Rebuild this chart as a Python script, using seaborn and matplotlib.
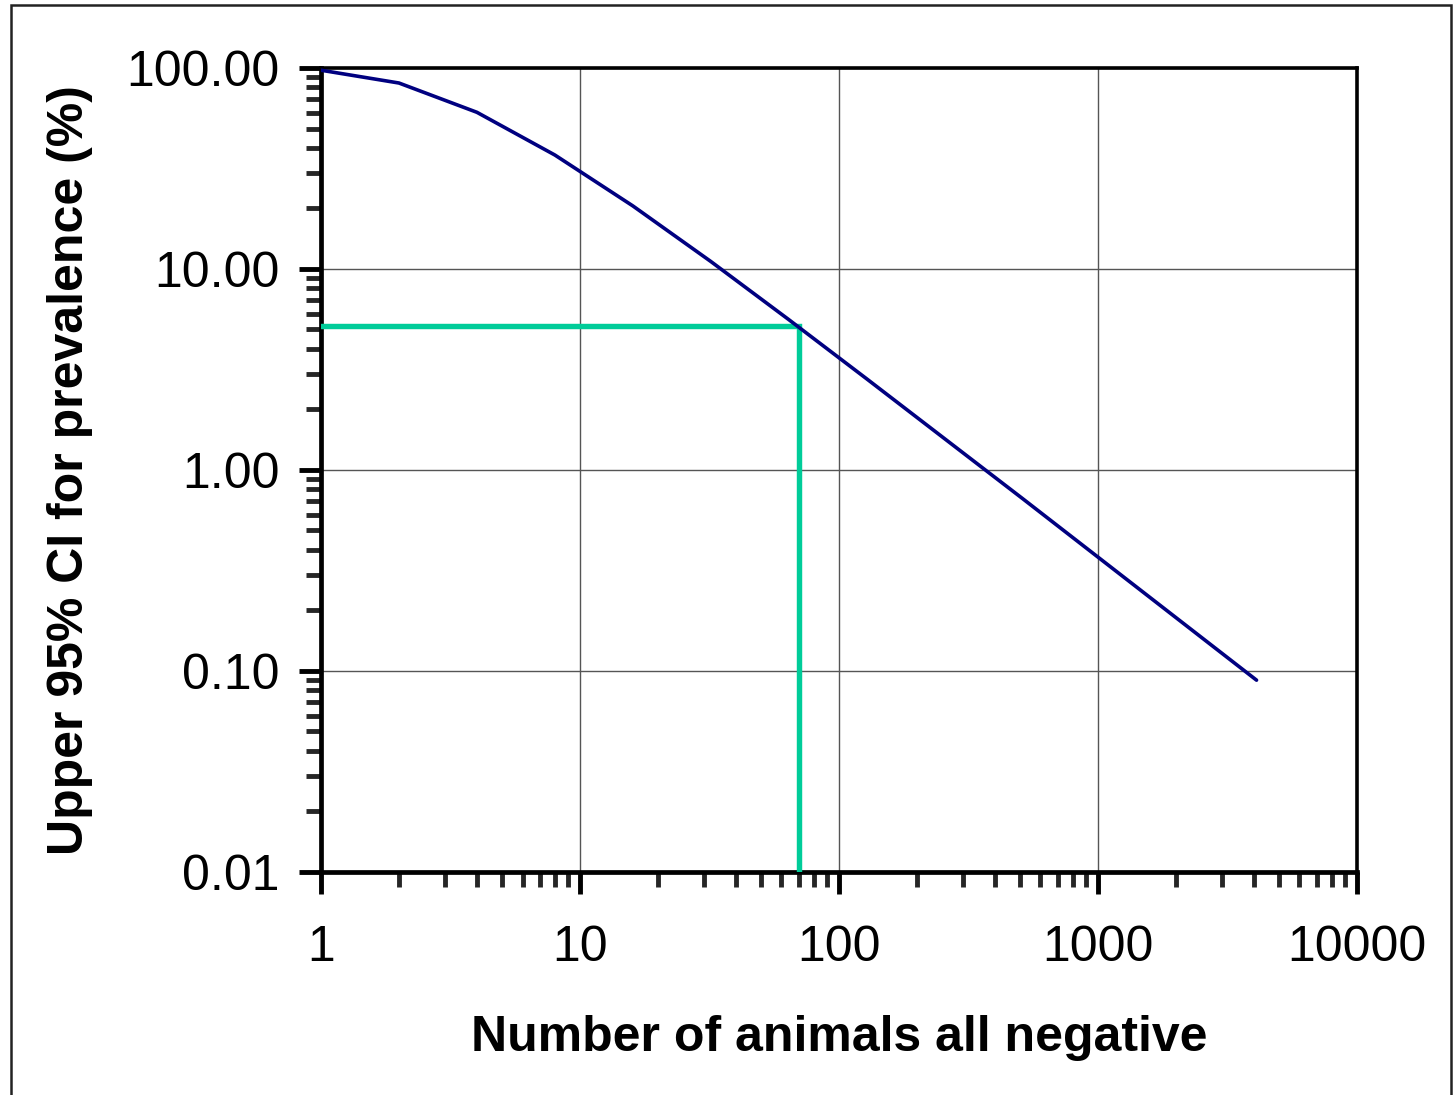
import matplotlib
matplotlib.use("Agg")
import matplotlib.pyplot as plt
import matplotlib.ticker as mticker
from matplotlib.patches import Rectangle
import seaborn as sns

# ----------------------------------------------------------
# Data
# ----------------------------------------------------------
n_animals = [1, 2, 4, 8, 16, 32, 64, 128, 256, 512, 1024, 2048, 4096]
upper_ci = [97.5, 84.2, 60.2, 36.9, 20.6, 10.9, 5.6, 2.84, 1.43, 0.72, 0.36, 0.18, 0.09]

# reference lines marking ~70 animals -> ~5% prevalence
guide_x = [1, 70, 70]
guide_y = [5.2, 5.2, 0.01]

x_ticks = [1, 10, 100, 1000, 10000]
x_labels = ["1", "10", "100", "1000", "10000"]
y_ticks = [0.01, 0.1, 1, 10, 100]
y_labels = ["0.01", "0.10", "1.00", "10.00", "100.00"]

# ----------------------------------------------------------
# Figure
# ----------------------------------------------------------
sns.set_style("white")
plt.rcParams["font.family"] = ["Liberation Sans", "DejaVu Sans"]
plt.rcParams["text.color"] = "black"
plt.rcParams["axes.labelcolor"] = "black"

fig = plt.figure(figsize=(14.55, 10.95), dpi=100)
ax = fig.add_axes([0.2206, 0.2037, 0.712, 0.7342])

sns.lineplot(x=n_animals, y=upper_ci, ax=ax, color="#000080", linewidth=2.6,
             estimator=None, sort=False, zorder=4)
ax.plot(guide_x, guide_y, color="#00CC99", linewidth=3.9, zorder=3,
        solid_joinstyle="miter")

ax.set_xscale("log")
ax.set_yscale("log")
ax.set_xlim(1, 10000)
ax.set_ylim(0.01, 100)

ax.set_xticks(x_ticks)
ax.set_xticklabels(x_labels)
ax.set_yticks(y_ticks)
ax.set_yticklabels(y_labels)
ax.xaxis.set_minor_locator(mticker.LogLocator(base=10, subs=range(2, 10)))
ax.yaxis.set_minor_locator(mticker.LogLocator(base=10, subs=range(2, 10)))
ax.xaxis.set_minor_formatter(mticker.NullFormatter())
ax.yaxis.set_minor_formatter(mticker.NullFormatter())

ax.grid(True, which="major", color="#555555", linewidth=1.0, zorder=0)
ax.set_axisbelow(True)

ax.tick_params(which="major", direction="out", length=16, width=3.5,
               labelsize=36, colors="black", bottom=True, left=True)
ax.tick_params(which="minor", direction="out", length=11, width=3.5,
               bottom=True, left=True)
ax.tick_params(axis="x", which="major", pad=22)
ax.tick_params(axis="y", which="major", pad=14)

for side in ["left", "bottom"]:
    ax.spines[side].set_linewidth(3.4)
for side in ["top", "right"]:
    ax.spines[side].set_linewidth(2.6)
for sp in ax.spines.values():
    sp.set_color("black")
    sp.set_visible(True)

ax.set_xlabel("Number of animals all negative", fontsize=36, fontweight="bold",
              labelpad=32)
ax.set_ylabel("Upper 95% CI for prevalence (%)", fontsize=36, fontweight="bold",
              labelpad=24)

# outer frame around the chart
fig.patches.append(Rectangle((11 / 1455, -0.02), 1440 / 1455, 1.02 - 5 / 1095,
                             transform=fig.transFigure, fill=False,
                             edgecolor="#222222", linewidth=1.8))

fig.savefig("out.png", dpi=100)
